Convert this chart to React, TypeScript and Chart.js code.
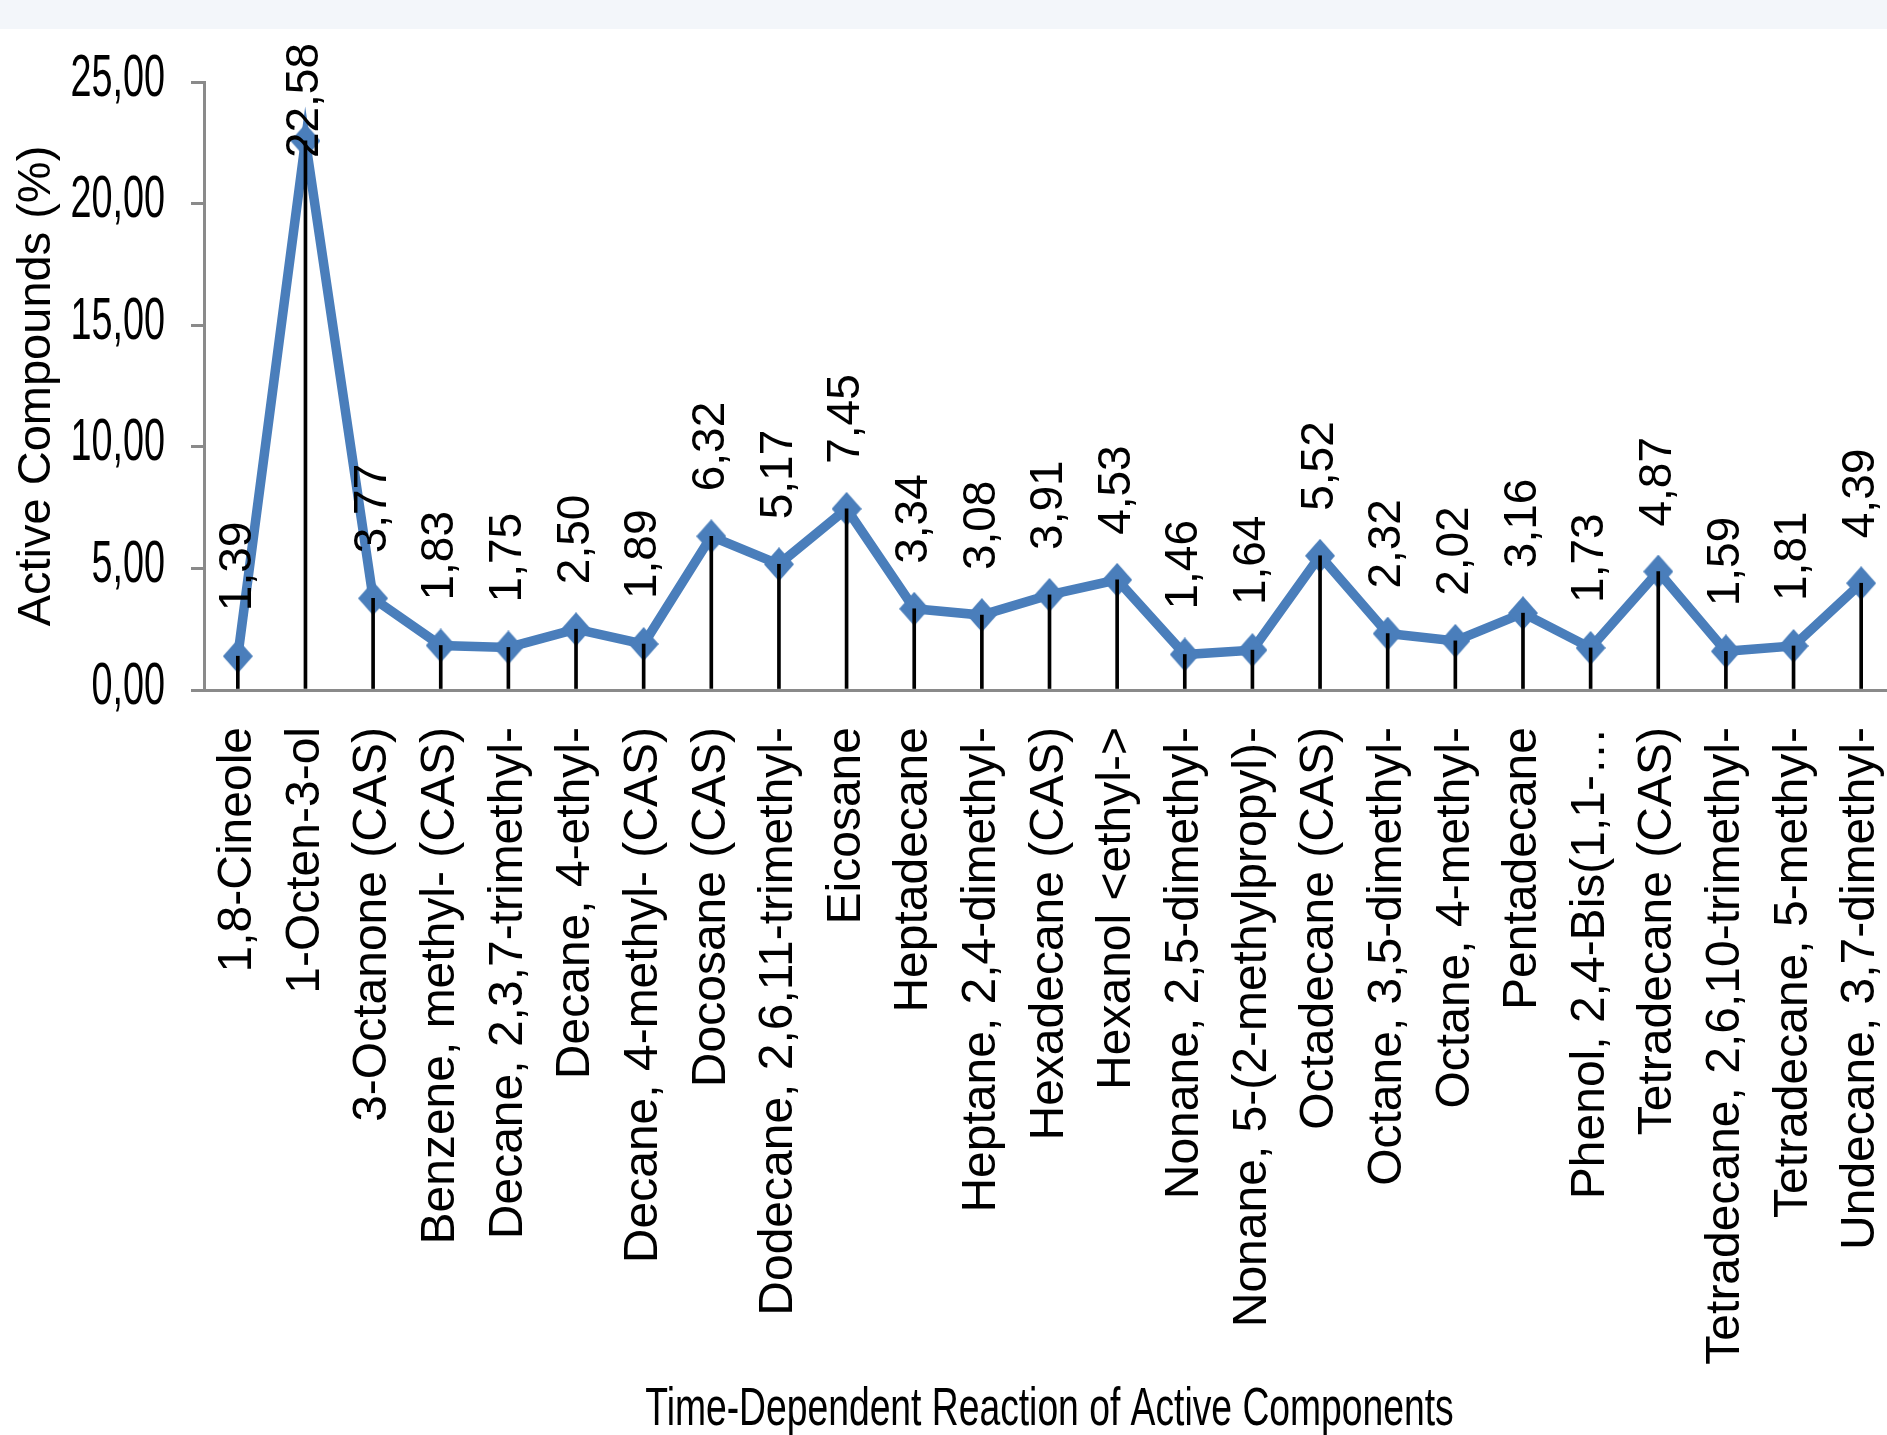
import React, { useEffect, useRef } from 'react';
import { Chart, registerables } from 'chart.js';

Chart.register(...registerables);

const categories: string[] = [
  '1,8-Cineole',
  '1-Octen-3-ol',
  '3-Octanone (CAS)',
  'Benzene, methyl- (CAS)',
  'Decane, 2,3,7-trimethyl-',
  'Decane, 4-ethyl-',
  'Decane, 4-methyl- (CAS)',
  'Docosane (CAS)',
  'Dodecane, 2,6,11-trimethyl-',
  'Eicosane',
  'Heptadecane',
  'Heptane, 2,4-dimethyl-',
  'Hexadecane (CAS)',
  'Hexanol <ethyl->',
  'Nonane, 2,5-dimethyl-',
  'Nonane, 5-(2-methylpropyl)-',
  'Octadecane (CAS)',
  'Octane, 3,5-dimethyl-',
  'Octane, 4-methyl-',
  'Pentadecane',
  'Phenol, 2,4-Bis(1,1-…',
  'Tetradecane (CAS)',
  'Tetradecane, 2,6,10-trimethyl-',
  'Tetradecane, 5-methyl-',
  'Undecane, 3,7-dimethyl-',
];

const values: number[] = [
  1.39, 22.58, 3.77, 1.83, 1.75, 2.5, 1.89, 6.32, 5.17, 7.45, 3.34, 3.08, 3.91,
  4.53, 1.46, 1.64, 5.52, 2.32, 2.02, 3.16, 1.73, 4.87, 1.59, 1.81, 4.39,
];

const yMin = 0;
const yMax = 25;
const yStep = 5;

const yTitle = 'Active Compounds (%)';
const xTitle = 'Time-Dependent Reaction of Active Components';

const LINE_COLOR = '#4a7ebb';
const AXIS_COLOR = '#8a8a8a';
const FONT = '"Liberation Sans", Arial, Helvetica, sans-serif';

const fmt = (v: number) => v.toFixed(2).replace('.', ',');

function makeDiamond(w: number, h: number, color: string) {
  const c = document.createElement('canvas');
  c.width = w;
  c.height = h;
  const g = c.getContext('2d')!;
  g.fillStyle = color;
  g.beginPath();
  g.moveTo(w / 2, 0);
  g.lineTo(w, h / 2);
  g.lineTo(w / 2, h);
  g.lineTo(0, h / 2);
  g.closePath();
  g.fill();
  return c;
}

export default function App() {
  const ref = useRef<HTMLCanvasElement | null>(null);

  useEffect(() => {
    const canvas = ref.current;
    if (!canvas) return;

    const diamond = makeDiamond(30, 34, LINE_COLOR);

    const textPlugin = {
      id: 'customText',
      afterDraw(chart: any) {
        const ctx = chart.ctx as CanvasRenderingContext2D;
        const area = chart.chartArea;
        ctx.save();
        ctx.fillStyle = '#000';

        // data labels (rotated)
        const meta = chart.getDatasetMeta(1);
        ctx.font = `46px ${FONT}`;
        meta.data.forEach((pt: any, i: number) => {
          const text = fmt(values[i]);
          const w = ctx.measureText(text).width;
          let bottom = pt.y - 45;
          if (bottom - w < 43) bottom = 43 + w;
          ctx.save();
          ctx.translate(pt.x, bottom);
          ctx.rotate(-Math.PI / 2);
          ctx.textAlign = 'left';
          ctx.textBaseline = 'middle';
          ctx.fillText(text, 0, 0);
          ctx.restore();
        });

        // y tick labels (condensed)
        const ys = chart.scales.y;
        ctx.font = `60px ${FONT}`;
        ys.ticks.forEach((t: any) => {
          const y = ys.getPixelForValue(t.value);
          ctx.save();
          ctx.translate(area.left - 39, y - 3);
          ctx.scale(0.63, 1);
          ctx.textAlign = 'right';
          ctx.textBaseline = 'middle';
          ctx.fillText(fmt(t.value), 0, 0);
          ctx.restore();
        });

        // x axis title (condensed)
        ctx.font = `54px ${FONT}`;
        ctx.save();
        ctx.translate((area.left + area.right) / 2, 1425);
        ctx.scale(0.69, 1);
        ctx.textAlign = 'center';
        ctx.textBaseline = 'alphabetic';
        ctx.fillText(xTitle, 0, 0);
        ctx.restore();

        ctx.restore();
      },
    };

    const chart = new Chart(canvas, {
      type: 'bar',
      data: {
        labels: categories,
        datasets: [
          {
            type: 'bar',
            label: 'drop',
            data: values,
            backgroundColor: '#000000',
            borderWidth: 0,
            barThickness: 3,
            order: 0,
          } as any,
          {
            type: 'line',
            label: 'Active Compounds',
            data: values,
            borderColor: LINE_COLOR,
            backgroundColor: LINE_COLOR,
            borderWidth: 9.5,
            pointStyle: diamond,
            pointRadius: 15,
            pointBackgroundColor: LINE_COLOR,
            pointBorderColor: LINE_COLOR,
            pointBorderWidth: 0,
            tension: 0,
            fill: false,
            clip: false,
            order: 1,
          } as any,
        ],
      },
      options: {
        responsive: false,
        animation: false,
        devicePixelRatio: 1,
        layout: { padding: { top: 82, right: 11, bottom: 0, left: 0 } },
        plugins: {
          legend: { display: false },
          tooltip: { enabled: false },
        },
        scales: {
          x: {
            type: 'category',
            offset: true,
            grid: { display: false, drawTicks: false },
            border: { display: true, color: AXIS_COLOR, width: 3 },
            ticks: {
              autoSkip: false,
              minRotation: 90,
              maxRotation: 90,
              padding: 37,
              color: '#000',
              font: { family: FONT, size: 48 },
            },
            afterFit: (s: any) => {
              s.height = 745;
              s.paddingLeft = 0;
              s.paddingRight = 0;
            },
          },
          y: {
            min: yMin,
            max: yMax,
            ticks: { display: false, stepSize: yStep },
            grid: {
              display: true,
              drawOnChartArea: false,
              drawTicks: true,
              tickLength: 13,
              color: AXIS_COLOR,
              lineWidth: 3,
            },
            border: { display: true, color: AXIS_COLOR, width: 3 },
            title: {
              display: true,
              text: yTitle,
              color: '#000',
              font: { family: FONT, size: 47 },
              padding: { top: 9, bottom: 0 },
            },
            afterFit: (s: any) => {
              s.width = 204;
              s.paddingTop = 0;
              s.paddingBottom = 0;
            },
          },
        },
      } as any,
      plugins: [textPlugin],
    });

    return () => {
      chart.destroy();
    };
  }, []);

  return (
    <div
      style={{
        position: 'absolute',
        left: 0,
        top: 0,
        width: 1887,
        height: 1435,
        overflow: 'hidden',
        background: '#ffffff',
      }}
    >
      <div
        style={{
          position: 'absolute',
          left: 0,
          top: 0,
          width: 1887,
          height: 29,
          background: '#f3f6fa',
        }}
      />
      <canvas
        ref={ref}
        width={1910}
        height={1435}
        style={{ position: 'absolute', left: 0, top: 0, display: 'block' }}
      />
    </div>
  );
}
